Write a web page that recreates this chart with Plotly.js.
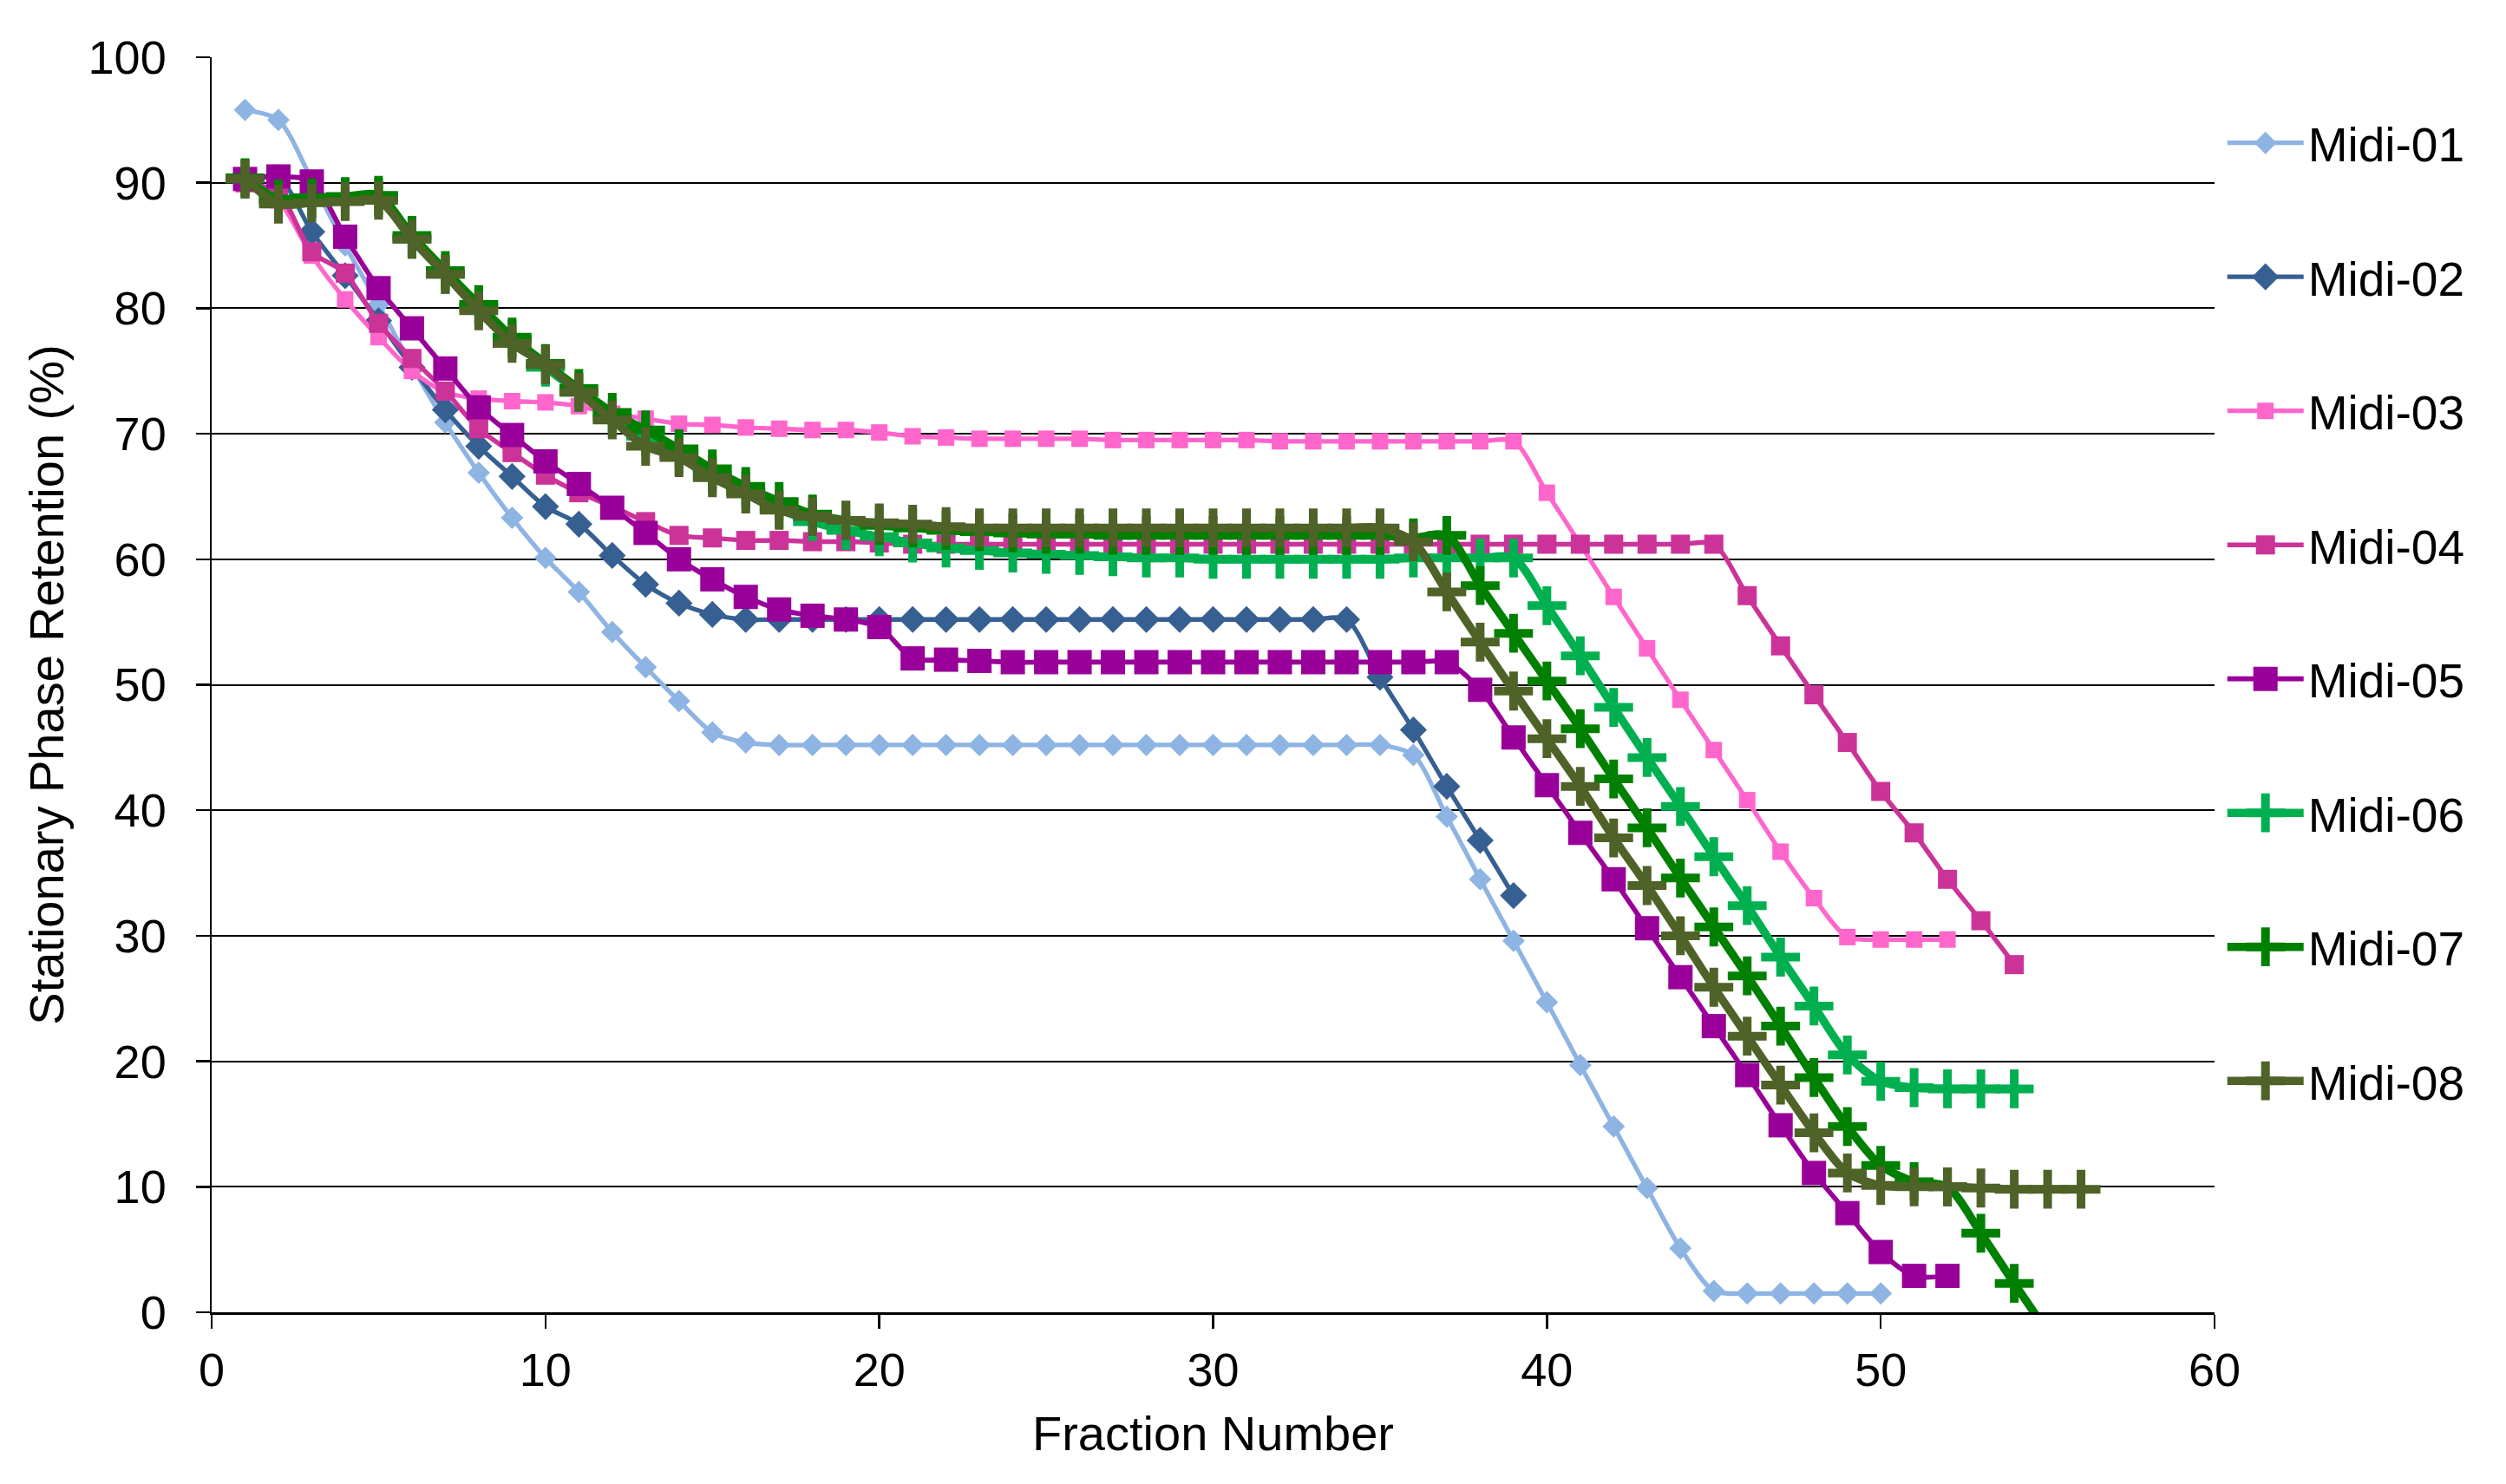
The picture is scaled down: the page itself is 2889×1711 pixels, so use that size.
<!DOCTYPE html>
<html>
<head>
<meta charset="utf-8">
<script src="https://cdn.plot.ly/plotly-3.0.1.min.js"></script>
<style>html,body{margin:0;padding:0;background:#fff;}#chart{width:2889px;height:1711px;}</style>
</head>
<body>
<div id="chart"></div>
<script>
// Fraction numbers (x categories)
const fractions = [1,2,3,4,5,6,7,8,9,10,11,12,13,14,15,16,17,18,19,20,21,22,23,24,25,26,27,28,29,30,31,32,33,34,35,36,37,38,39,40,41,42,43,44,45,46,47,48,49,50,51,52,53,54,55,56];

const seriesNames = ["Midi-01","Midi-02","Midi-03","Midi-04","Midi-05","Midi-06","Midi-07","Midi-08"];

const midi01 = [95.8,95.0,90.2,85.0,80.3,75.4,70.9,66.9,63.3,60.1,57.4,54.2,51.4,48.7,46.2,45.4,45.2,45.2,45.2,45.2,45.2,45.2,45.2,45.2,45.2,45.2,45.2,45.2,45.2,45.2,45.2,45.2,45.2,45.2,45.2,44.4,39.5,34.5,29.6,24.7,19.7,14.8,9.9,5.1,1.7,1.5,1.5,1.5,1.5,1.5];
const midi02 = [90.2,90.4,86.1,82.6,79.0,75.3,71.9,69.0,66.6,64.2,62.8,60.3,58.0,56.5,55.6,55.2,55.2,55.2,55.2,55.2,55.2,55.2,55.2,55.2,55.2,55.2,55.2,55.2,55.2,55.2,55.2,55.2,55.2,55.2,50.6,46.4,41.9,37.6,33.2];
const midi03 = [90.2,88.6,84.2,80.7,77.7,75.0,73.3,72.8,72.6,72.5,72.2,71.6,71.2,70.8,70.7,70.5,70.4,70.3,70.3,70.1,69.8,69.7,69.6,69.6,69.6,69.6,69.5,69.5,69.5,69.5,69.5,69.4,69.4,69.4,69.4,69.4,69.4,69.4,69.4,65.3,61.2,57.0,52.9,48.8,44.8,40.8,36.7,33.0,29.9,29.7,29.7,29.7];
const midi04 = [90.0,89.2,84.5,82.8,78.8,76.0,73.4,70.4,68.5,66.7,65.3,64.2,63.0,61.9,61.7,61.5,61.5,61.4,61.4,61.3,61.2,61.2,61.2,61.2,61.2,61.2,61.2,61.2,61.2,61.2,61.2,61.2,61.2,61.2,61.2,61.2,61.2,61.2,61.2,61.2,61.2,61.2,61.2,61.2,61.2,57.1,53.1,49.2,45.4,41.5,38.2,34.5,31.2,27.7];
const midi05 = [90.3,90.5,90.1,85.7,81.6,78.4,75.2,72.1,69.9,67.8,66.0,64.1,62.1,60.0,58.4,57.0,56.0,55.5,55.2,54.6,52.1,52.0,51.9,51.8,51.8,51.8,51.8,51.8,51.8,51.8,51.8,51.8,51.8,51.8,51.8,51.8,51.8,49.6,45.8,42.0,38.2,34.5,30.6,26.7,22.8,18.9,14.9,11.1,7.9,4.8,2.9,2.9];
const midi06 = [90.3,88.6,88.6,88.7,88.8,85.5,82.7,80.1,77.5,75.3,73.3,71.3,69.8,68.3,66.7,65.4,64.0,63.0,62.3,61.8,61.3,60.9,60.7,60.5,60.4,60.3,60.2,60.1,60.1,60.0,60.0,60.0,60.0,60.0,60.0,60.1,60.1,60.1,60.1,56.3,52.3,48.2,44.2,40.3,36.3,32.4,28.3,24.4,20.5,18.4,17.9,17.8,17.8,17.8];
const midi07 = [90.4,88.7,88.8,88.9,89.0,85.8,83.0,80.3,77.7,75.6,73.6,71.7,70.3,68.8,67.2,65.8,64.6,63.6,63.1,62.7,62.5,62.3,62.2,62.1,62.0,62.0,61.9,61.9,61.9,61.9,61.9,61.9,61.9,61.9,61.9,61.7,61.9,57.9,54.1,50.3,46.5,42.5,38.6,34.6,30.7,26.8,22.8,18.7,14.8,11.7,10.4,10.0,6.3,2.3,-1.6];
const midi08 = [90.3,88.3,88.4,88.5,88.6,85.5,82.7,79.8,77.2,75.5,73.3,71.1,69.0,68.1,66.5,65.2,63.9,63.4,63.1,62.9,62.8,62.6,62.5,62.5,62.5,62.5,62.5,62.5,62.5,62.5,62.5,62.5,62.5,62.5,62.5,61.4,57.4,53.4,49.5,45.7,41.9,37.8,34.0,30.0,25.9,22.0,18.1,14.3,11.1,10.1,10.0,10.0,9.9,9.8,9.8,9.8];

const seriesValues = [midi01, midi02, midi03, midi04, midi05, midi06, midi07, midi08];

const colors = ["#8EB4E3","#376092","#FF66CC","#CC3399","#990099","#00B050","#008000","#4F6228"];
const symbols = ["diamond","diamond","square","square","square","cross-thin","cross-thin","cross-thin"];
const msizes = [20,24,19,22,28,32,32,32];
const lwidths = [5.3,5.3,5.3,5.5,5.7,9.5,9.5,9.5];

const traces = seriesValues.map((vals, i) => {
  const isPlus = symbols[i] === "cross-thin";
  return {
    type: "scatter",
    mode: "lines+markers",
    name: seriesNames[i],
    legendgroup: seriesNames[i],
    x: fractions.slice(0, vals.length),
    y: vals,
    line: {color: colors[i], width: lwidths[i], shape: "spline", smoothing: 0.8},
    marker: isPlus
      ? {symbol: "cross-thin", size: msizes[i], color: colors[i], line: {color: colors[i], width: 10}}
      : {symbol: symbols[i], size: msizes[i], color: colors[i], line: {width: 0}}
  };
});

const font = "Arial, 'Liberation Sans', sans-serif";

const layout = {
  width: 2889,
  height: 1711,
  paper_bgcolor: "#ffffff",
  plot_bgcolor: "#ffffff",
  margin: {l: 244, r: 336, t: 66, b: 198},
  font: {family: font, color: "#000000", size: 54},
  showlegend: true,
  legend: {
    x: 0.0042 + 1, xanchor: "left", y: 0.961, yanchor: "top",
    font: {family: font, size: 55, color: "#000"},
    itemwidth: 88,
    tracegroupgap: 80,
    bgcolor: "rgba(0,0,0,0)"
  },
  xaxis: {
    range: [0, 60],
    tick0: 0, dtick: 10,
    showgrid: false,
    zeroline: false,
    showline: true, linecolor: "#000", linewidth: 2.5,
    ticks: "outside", ticklen: 16, tickwidth: 2.5, tickcolor: "#000",
    ticklabelstandoff: 2,
    tickfont: {family: font, size: 54, color: "#000"},
    title: {text: "Fraction Number", font: {family: font, size: 56, color: "#000"}, standoff: 25}
  },
  yaxis: {
    range: [0, 100],
    tick0: 0, dtick: 10,
    showgrid: true, gridcolor: "#000", gridwidth: 2,
    zeroline: false,
    showline: true, linecolor: "#000", linewidth: 2.5,
    ticks: "outside", ticklen: 16, tickwidth: 2.5, tickcolor: "#000",
    ticklabelstandoff: 23,
    tickfont: {family: font, size: 54, color: "#000"},
    title: {text: "Stationary Phase Retention (%)", font: {family: font, size: 56, color: "#000"}, standoff: 10}
  }
};

Plotly.newPlot("chart", traces, layout, {staticPlot: true, displayModeBar: false}).then(() => {
  // Legend markers are capped in size by the library; enlarge them to match the plot markers
  const groups = document.querySelectorAll("#chart .legend .traces");
  groups.forEach((g, i) => {
    const k = Math.max(1, msizes[i] / 16) * (i >= 5 ? 1.0 : 1.0);
    g.querySelectorAll("path.scatterpts").forEach(p => {
      const t = p.getAttribute("transform") || "";
      p.setAttribute("transform", t + " scale(" + k + ")");
    });
  });
});
</script>
</body>
</html>
